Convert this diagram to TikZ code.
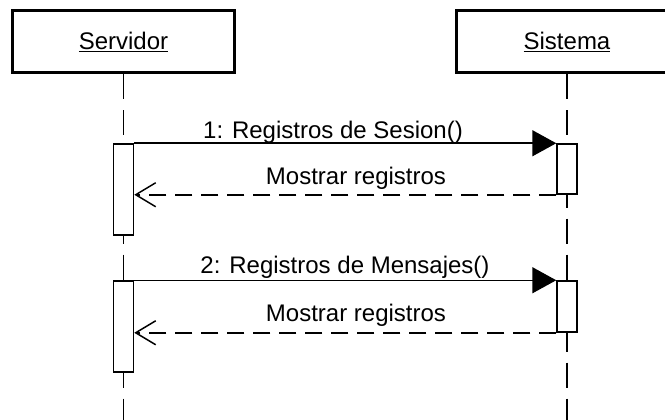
\documentclass[tikz,border=0pt]{standalone}
\usepackage{fontspec}
\setmainfont{Liberation Sans}
\usetikzlibrary{arrows.meta}
\begin{document}
\begin{tikzpicture}[x=1pt,y=-1pt,
  obj/.style={draw,line width=3pt,minimum width=222pt,minimum height=62pt,inner sep=0pt,font=\fontsize{24}{28}\selectfont},
  act/.style={draw,fill=white,line width=1.5pt,minimum width=20pt,inner sep=0pt},
  life/.style={line width=1.5pt,dash pattern=on 25pt off 11pt},
  msg/.style={line width=1.5pt,-{Triangle[length=24pt,width=26pt]}},
  ret/.style={line width=1.5pt,dash pattern=on 17pt off 9pt,-{Straight Barb[length=20pt,width=24pt,line width=1.5pt]}},
  lbl/.style={font=\fontsize{24}{28}\selectfont,anchor=base,inner sep=0pt}]
\useasboundingbox (0,0) rectangle (665,420);
\clip (0,0) rectangle (665,420);
% objects
\node[obj] (srv) at (123.5,42) {\underline{Servidor}};
\node[obj] (sis) at (567,42) {\underline{Sistema}};
\coordinate (srvEnd) at (123.5,425);
\coordinate (sisEnd) at (567,425);
% lifelines
\draw[life] (srv.south) -- (srvEnd);
\draw[life] (sis.south) -- (sisEnd);
% activations
\node[act,minimum height=91pt] (a1s) at (123.5,189.5) {};
\node[act,minimum height=50pt] (a1t) at (567,169) {};
\node[act,minimum height=91pt] (a2s) at (123.5,326.5) {};
\node[act,minimum height=51pt] (a2t) at (567,306.5) {};
% messages 1
\draw[msg] (a1s.north east) -- (a1t.north west);
\node[lbl] (m1) at (333,139) {1: Registros de Sesion()};
\draw[ret] (a1t.south west) -- (a1t.south west -| a1s.east);
\node[lbl] (r1) at (356,185) {Mostrar registros};
% messages 2
\draw[msg] (a2s.north east) -- (a2t.north west);
\node[lbl] (m2) at (345,273) {2: Registros de Mensajes()};
\draw[ret] (a2t.south west) -- (a2t.south west -| a2s.east);
\node[lbl] (r2) at (356,321) {Mostrar registros};
\end{tikzpicture}
\end{document}
